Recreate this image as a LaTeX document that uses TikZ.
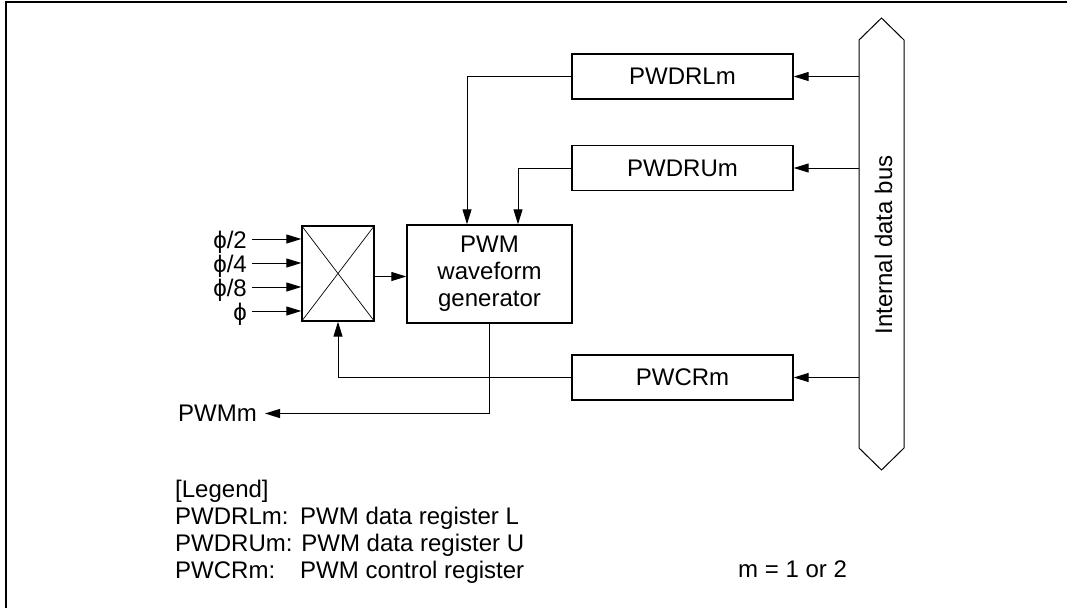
\documentclass[tikz,border=0pt]{standalone}
\usepackage{fontspec}
\setmainfont{Liberation Sans}
\usetikzlibrary{arrows.meta}
\begin{document}
\begin{tikzpicture}[x=1pt,y=-1pt,
  every node/.style={font=\fontsize{24}{27}\selectfont, inner sep=0pt},
  reg/.style={draw, line width=1.4pt, minimum width=221pt, minimum height=45pt},
  conn/.style={line width=1pt, -{Triangle[length=15pt,width=9pt]}},
  wire/.style={line width=1pt}]
\useasboundingbox (0,0) rectangle (1067,608);
% frame
\draw[line width=2.5pt] (6,608) -- (6,2) -- (1067,2);
% internal data bus
\draw[wire] (881.5,18) -- (904,40) -- (904,448) -- (881.5,470) -- (859,448) -- (859,40) -- cycle;
\node[minimum width=45pt, minimum height=408pt] (bus) at (881.5,244) {};
\node[rotate=90] (bustext) at (883.5,245) {Internal data bus};
% registers
\node[reg] (pwdrl) at (682.5,76.5) {PWDRLm};
\node[reg] (pwdru) at (682.5,168) {PWDRUm};
\node[reg] (pwcr) at (682.5,377.5) {PWCRm};
% PWM waveform generator
\node[draw, line width=1.4pt, minimum width=165pt, minimum height=98pt, align=center] (pwm) at (489.5,274) {PWM\\waveform\\generator};
% selector
\node[draw, line width=1.4pt, minimum width=72pt, minimum height=95pt] (mux) at (338,273.5) {};
\draw[line width=0.7pt] (mux.north west) -- (mux.south east);
\draw[line width=0.7pt] (mux.north east) -- (mux.south west);
% clock inputs
\node[anchor=east] (in1) at (247,242) {ϕ/2};
\node[anchor=east] (in2) at (247,266) {ϕ/4};
\node[anchor=east] (in3) at (247,290) {ϕ/8};
\node[anchor=east] (in4) at (247,314) {ϕ};
\coordinate (i1) at (252,239);
\coordinate (i2) at (252,263);
\coordinate (i3) at (252,287);
\coordinate (i4) at (252,311);
\draw[conn] (i1) -- (i1 -| mux.west);
\draw[conn] (i2) -- (i2 -| mux.west);
\draw[conn] (i3) -- (i3 -| mux.west);
\draw[conn] (i4) -- (i4 -| mux.west);
% connections
\draw[conn] ([yshift=-3pt]mux.east) -- ([yshift=-3pt]mux.east -| pwm.west);
\draw[conn] (bus.west |- pwdrl) -- (pwdrl.east);
\draw[conn] (bus.west |- pwdru) -- (pwdru.east);
\draw[conn] (bus.west |- pwcr) -- (pwcr.east);
\draw[conn] (pwdrl.west) -| ([xshift=-22.5pt]pwm.north);
\draw[conn] (pwdru.west) -| ([xshift=28.5pt]pwm.north);
\draw[conn] (pwcr.west) -| (mux.south);
% output
\node[anchor=east] (pwmm) at (257,413.5) {PWMm};
\draw[conn] (pwm.south) |- ([xshift=8pt]pwmm.east);
% legend
\node[anchor=base west] (lg) at (175,497) {[Legend]};
\node[anchor=base west] (lg1) at (175,524) {PWDRLm:};
\node[anchor=base west] (lg1d) at (300,524) {PWM data register L};
\node[anchor=base west] (lg2) at (175,551) {PWDRUm: PWM data register U};
\node[anchor=base west] (lg3) at (175,578) {PWCRm:};
\node[anchor=base west] (lg3d) at (300,578) {PWM control register};
\node[anchor=base west] (mnote) at (738,577) {m = 1 or 2};
\end{tikzpicture}
\end{document}
